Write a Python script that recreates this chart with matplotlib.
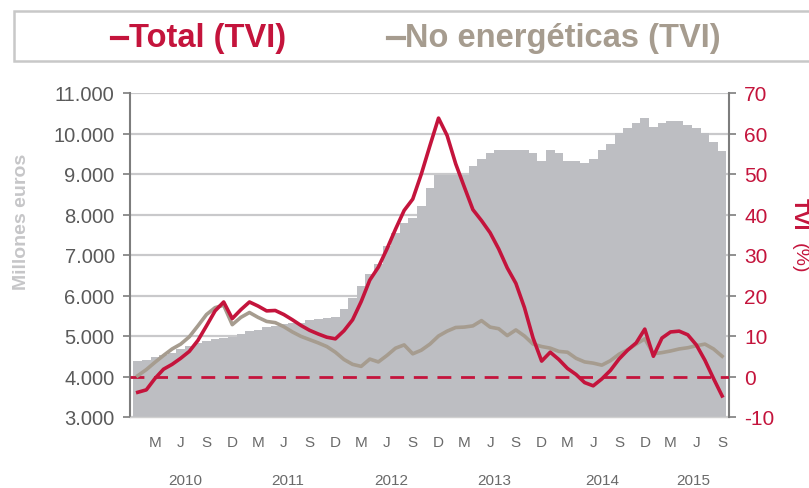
import matplotlib
matplotlib.use("Agg")
import matplotlib.pyplot as plt
from matplotlib.patches import Rectangle
from matplotlib.lines import Line2D
import matplotlib.transforms as mtransforms
import numpy as np

plt.rcParams['font.family'] = ['Liberation Sans', 'DejaVu Sans']

# ---- data (monthly, Jan 2010 - Sep 2015) ----
imports_meur = [4390, 4400, 4470, 4530, 4590, 4670, 4750, 4820, 4880, 4920, 4960, 4980,
                5040, 5120, 5140, 5210, 5250, 5290, 5310, 5330, 5400, 5420, 5450, 5480,
                5660, 5950, 6240, 6520, 6770, 7220, 7550, 7800, 7920, 8200, 8660, 8980,
                8980, 8980, 8980, 9190, 9360, 9520, 9600, 9600, 9600, 9600, 9520, 9310,
                9600, 9520, 9310, 9310, 9280, 9370, 9600, 9740, 10010, 10135, 10260, 10380,
                10160, 10260, 10310, 10310, 10220, 10135, 10010, 9800, 9560]

total_tvi = [-3.9, -3.3, -0.5, 1.8, 3.0, 4.5, 6.2, 8.9, 12.5, 16.2, 18.4, 14.3,
             16.5, 18.4, 17.4, 16.2, 16.3, 15.3, 14.0, 12.6, 11.4, 10.5, 9.7, 9.3,
             11.3, 14.0, 18.5, 23.8, 27.0, 31.5, 36.4, 41.0, 43.8, 50.0, 57.0, 63.8,
             59.5, 52.5, 46.8, 41.2, 38.5, 35.5, 31.5, 26.8, 23.0, 17.0, 9.5, 3.8,
             6.0, 4.2, 2.0, 0.5, -1.5, -2.3, -0.6, 1.5, 4.3, 6.5, 8.3, 11.7,
             5.0, 9.5, 11.0, 11.2, 10.3, 7.8, 4.0, -0.5, -4.8]

no_energ_tvi = [0.2, 1.7, 3.5, 5.2, 6.8, 8.0, 9.8, 12.5, 15.3, 17.0, 17.6, 12.8,
                14.6, 15.8, 14.6, 13.6, 13.3, 12.3, 11.0, 9.9, 9.1, 8.3, 7.4, 6.0,
                4.2, 3.0, 2.5, 4.3, 3.6, 5.2, 7.0, 7.8, 5.6, 6.5, 8.0, 10.0,
                11.2, 12.1, 12.2, 12.5, 13.8, 12.2, 11.8, 10.1, 11.5, 10.0, 8.0, 7.4,
                7.0, 6.2, 6.0, 4.5, 3.6, 3.3, 2.8, 3.9, 5.5, 6.6, 8.0, 9.3,
                5.6, 5.9, 6.3, 6.8, 7.1, 7.6, 8.0, 6.8, 5.0]

month_letters = ['M', 'J', 'S', 'D']
years = ['2010', '2011', '2012', '2013', '2014', '2015']
left_ticks = [3000, 4000, 5000, 6000, 7000, 8000, 9000, 10000, 11000]
left_ticklabels = ['3.000', '4.000', '5.000', '6.000', '7.000', '8.000', '9.000', '10.000', '11.000']
right_ticks = [-10, 0, 10, 20, 30, 40, 50, 60, 70]

RED = '#c4143c'
BROWN = '#a69c8f'
BAR = '#bdbec2'
GRID = '#c9c9cb'
SPINE = '#7d7d7d'
TXT = '#5a5a5a'

W, H = 809, 489
fig = plt.figure(figsize=(W / 100, H / 100), dpi=100)
fig.patch.set_facecolor('white')

def fx(px):
    return px / W

def fy(py):
    return 1 - py / H

ax = fig.add_axes([fx(130), fy(418), fx(729) - fx(130), fy(94) - fy(418)])
n = len(imports_meur)
x = np.arange(n)

ax.bar(x, imports_meur, width=1.0, color=BAR, linewidth=0, zorder=2)
ax.set_ylim(3000, 11000)
ax.set_xlim(-0.9, n - 0.2)
ax.set_yticks(left_ticks)
ax.set_yticklabels(left_ticklabels)
ax.yaxis.grid(True, color=GRID, linewidth=1.6, zorder=0)
ax.set_axisbelow(True)

for s in ['top', 'right']:
    ax.spines[s].set_visible(False)
ax.spines['left'].set_color(SPINE)
ax.spines['left'].set_linewidth(1.5)
ax.spines['bottom'].set_color('#d0d0d0')
ax.spines['bottom'].set_linewidth(1.0)
ax.tick_params(axis='y', direction='out', length=5, width=1.2, color=SPINE,
               labelsize=14.5, labelcolor=TXT, pad=6)

# month ticks
mt = list(range(2, n, 3))
ax.set_xticks(mt)
ax.set_xticklabels([month_letters[i % 4] for i in range(len(mt))])
ax.tick_params(axis='x', length=0, labelsize=11, labelcolor='#6a6a6a', pad=13)

# year labels
trans = mtransforms.blended_transform_factory(ax.transData, ax.transAxes)
year_pos = [5.5, 17.5, 29.5, 41.5, 54.0, 64.6]
for yp, yl in zip(year_pos, years):
    ax.text(yp, -0.194, yl, transform=trans, ha='center', va='center',
            fontsize=11, color='#6a6a6a')

ax2 = ax.twinx()
ax2.set_ylim(-10, 70)
ax2.set_yticks(right_ticks)
ax2.set_yticklabels([str(t) for t in right_ticks])
for s in ['top', 'left', 'bottom']:
    ax2.spines[s].set_visible(False)
ax2.spines['right'].set_color(SPINE)
ax2.spines['right'].set_linewidth(1.5)
ax2.tick_params(axis='y', direction='out', length=5, width=1.2, color=SPINE,
                labelsize=15, labelcolor=RED, pad=6)

ax2.axhline(0, color=RED, linewidth=2.0, linestyle=(0, (5, 3.5)), zorder=3)
ax2.plot(x, no_energ_tvi, color=BROWN, linewidth=2.6, zorder=4, solid_joinstyle='round')
ax2.plot(x, total_tvi, color=RED, linewidth=2.6, zorder=5, solid_joinstyle='round')

# axis titles
fig.text(fx(22), fy(222), 'Millones euros', rotation=90, ha='center', va='center',
         fontsize=14, fontweight='bold', color='#c6c6c8')
fig.text(fx(799), fy(214), 'TVI', rotation=270, ha='center', va='center',
         fontsize=15, fontweight='bold', color=RED)
fig.text(fx(799), fy(258), '(%)', rotation=270, ha='center', va='center',
         fontsize=14, color=RED)

# legend box
fig.add_artist(Rectangle((fx(14), fy(62)), fx(830) - fx(14), fy(12) - fy(62),
                         transform=fig.transFigure, facecolor='white',
                         edgecolor='#c8c8c8', linewidth=1.8, zorder=0))
fig.add_artist(Line2D([fx(112), fx(127)], [fy(39), fy(39)], transform=fig.transFigure,
                      color=RED, linewidth=3))
fig.text(fx(129), fy(39), 'Total (TVI)', ha='left', va='center', fontsize=23.5,
         fontweight='bold', color=RED)
fig.add_artist(Line2D([fx(388), fx(404)], [fy(39), fy(39)], transform=fig.transFigure,
                      color=BROWN, linewidth=3))
fig.text(fx(405), fy(39), 'No energéticas (TVI)', ha='left', va='center', fontsize=23.5,
         fontweight='bold', color=BROWN)

fig.savefig('out.png', dpi=100)
